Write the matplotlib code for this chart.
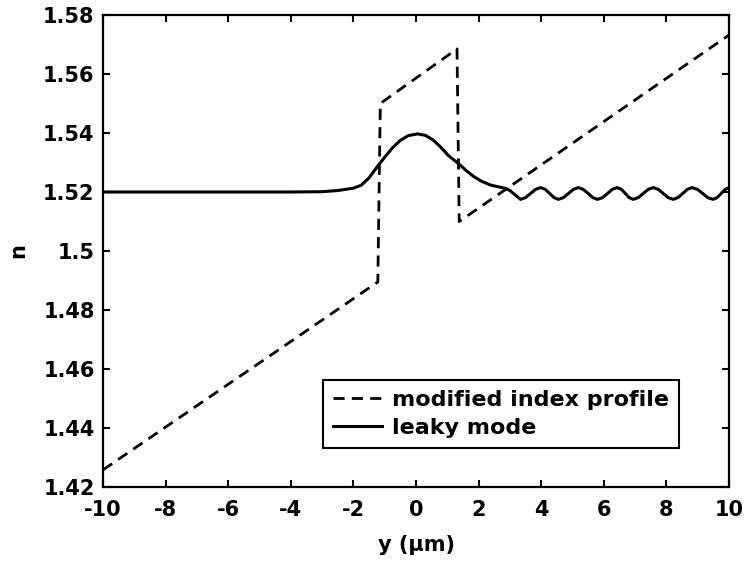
import matplotlib
matplotlib.use("Agg")
import matplotlib.pyplot as plt

# modified index profile (dashed)
profile_y = [-10.0, -1.22, -1.14, 1.31, 1.38, 10.0]
profile_n = [1.4258, 1.4895, 1.5500, 1.5685, 1.5100, 1.5732]

# leaky mode (solid)
mode_y = [-10.0, -6.0, -4.0, -3.0, -2.5, -2.0, -1.75, -1.5, -1.25, -1.0, -0.75,
          -0.5, -0.25, 0.05, 0.3, 0.55, 0.8, 1.05, 1.34, 1.6, 1.85, 2.1, 2.4,
          2.7, 2.87, 3.0, 3.17, 3.34, 3.50, 3.66, 3.82, 3.98, 4.13, 4.27, 4.41,
          4.55, 4.71, 4.87, 5.03, 5.19, 5.34, 5.50, 5.65, 5.80, 5.96, 6.12,
          6.27, 6.43, 6.56, 6.69, 6.81, 6.94, 7.10, 7.26, 7.42, 7.58, 7.74,
          7.90, 8.06, 8.22, 8.37, 8.52, 8.67, 8.82, 8.99, 9.16, 9.32, 9.49,
          9.62, 9.75, 9.88, 10.0]
mode_n = [1.5200, 1.5200, 1.5200, 1.5201, 1.5205, 1.5213, 1.5223, 1.5248, 1.5284,
          1.5318, 1.5350, 1.5375, 1.5391, 1.5397, 1.5392, 1.5376, 1.5351, 1.5322,
          1.5298, 1.5273, 1.5252, 1.5236, 1.5223, 1.5216, 1.5212, 1.5205, 1.5190,
          1.5175, 1.5181, 1.5195, 1.5209, 1.5215, 1.5209, 1.5195, 1.5181, 1.5175,
          1.5181, 1.5195, 1.5209, 1.5215, 1.5209, 1.5195, 1.5181, 1.5175, 1.5181,
          1.5195, 1.5209, 1.5215, 1.5209, 1.5195, 1.5181, 1.5175, 1.5181, 1.5195,
          1.5209, 1.5215, 1.5209, 1.5195, 1.5181, 1.5175, 1.5181, 1.5195, 1.5209,
          1.5215, 1.5209, 1.5195, 1.5181, 1.5175, 1.5181, 1.5195, 1.5209, 1.5215]

xticks = [-10, -8, -6, -4, -2, 0, 2, 4, 6, 8, 10]
yticks = [1.42, 1.44, 1.46, 1.48, 1.50, 1.52, 1.54, 1.56, 1.58]
ytick_labels = ["1.42", "1.44", "1.46", "1.48", "1.5", "1.52", "1.54", "1.56", "1.58"]

plt.rcParams['font.family'] = ['DejaVu Sans']
plt.rcParams['font.weight'] = 'bold'

fig = plt.figure(figsize=(7.55, 5.64), dpi=100)
ax = fig.add_axes([103/755, 1 - 487/564, 626/755, 472/564])

ax.plot(profile_y, profile_n, color='black', lw=2.0, linestyle=(0, (4.0, 2.6)),
        label='modified index profile')
ax.plot(mode_y, mode_n, color='black', lw=2.2, label='leaky mode')

ax.set_xlim(-10, 10)
ax.set_ylim(1.42, 1.58)
ax.set_xticks(xticks)
ax.set_xticklabels([str(t) for t in xticks])
ax.set_yticks(yticks)
ax.set_yticklabels(ytick_labels)

ax.tick_params(direction='in', length=5, width=1.5, top=True, right=True,
               labelsize=15)
ax.tick_params(axis='x', pad=9)
ax.tick_params(axis='y', pad=6)
for s in ax.spines.values():
    s.set_linewidth(1.6)

ax.set_xlabel('y (µm)', fontsize=15, fontweight='bold', labelpad=11)
ax.set_ylabel('n', fontsize=15, fontweight='bold', labelpad=11)

leg = ax.legend(loc='lower right', bbox_to_anchor=(0.92, 0.083), borderaxespad=0,
                fontsize=16, fancybox=False, framealpha=1, edgecolor='black',
                handlelength=2.2, handletextpad=0.45, borderpad=0.45,
                labelspacing=0.35)
leg.get_frame().set_linewidth(1.5)

fig.savefig('out.png', dpi=100)
